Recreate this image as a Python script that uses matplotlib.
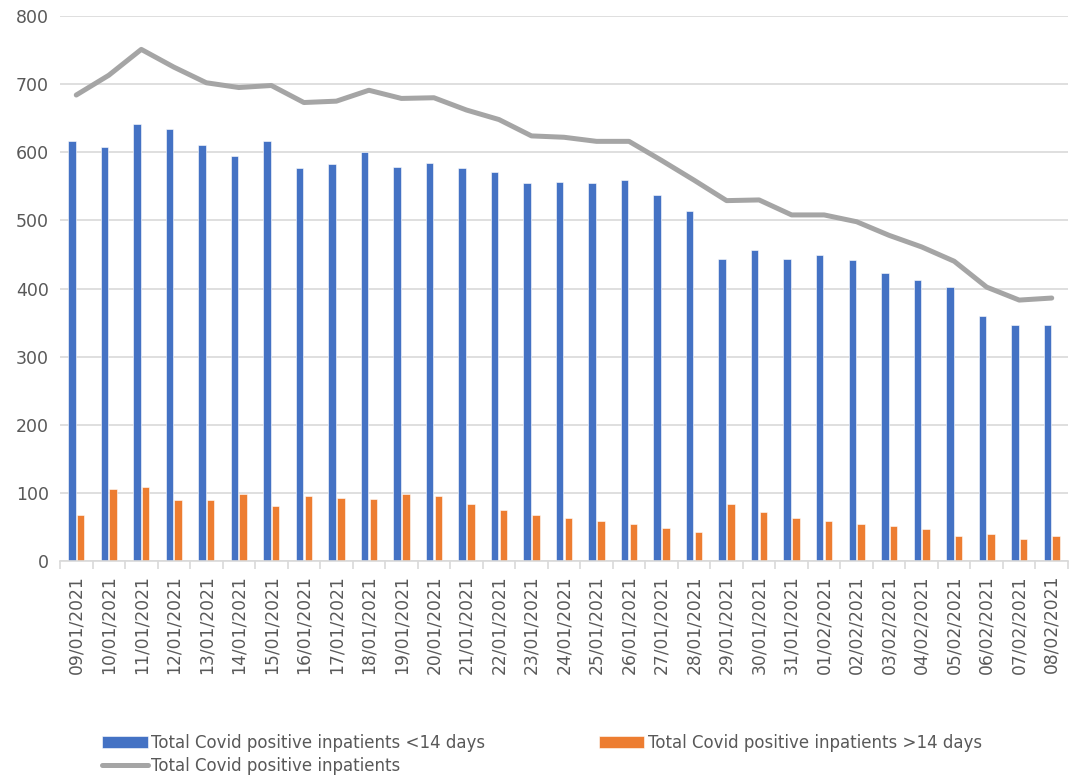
import matplotlib
matplotlib.use("Agg")
import matplotlib.pyplot as plt
import numpy as np

dates = ["09/01/2021", "10/01/2021", "11/01/2021", "12/01/2021", "13/01/2021",
         "14/01/2021", "15/01/2021", "16/01/2021", "17/01/2021", "18/01/2021",
         "19/01/2021", "20/01/2021", "21/01/2021", "22/01/2021", "23/01/2021",
         "24/01/2021", "25/01/2021", "26/01/2021", "27/01/2021", "28/01/2021",
         "29/01/2021", "30/01/2021", "31/01/2021", "01/02/2021", "02/02/2021",
         "03/02/2021", "04/02/2021", "05/02/2021", "06/02/2021", "07/02/2021",
         "08/02/2021"]
under14 = [617, 608, 642, 634, 610, 595, 616, 577, 583, 600,
           579, 584, 577, 571, 555, 557, 555, 560, 537, 514,
           443, 457, 444, 449, 442, 423, 412, 402, 360, 347, 347]
over14 = [67, 106, 108, 90, 90, 99, 81, 95, 92, 91,
          99, 95, 83, 75, 68, 63, 59, 54, 48, 43,
          84, 72, 63, 58, 54, 51, 47, 37, 39, 33, 37]
total = [684, 713, 751, 725, 702, 695, 698, 673, 675, 691,
         679, 680, 662, 648, 624, 622, 616, 616, 588, 559,
         529, 530, 508, 508, 498, 478, 461, 440, 402, 383, 386]

label_u = "Total Covid positive inpatients <14 days"
label_o = "Total Covid positive inpatients >14 days"
label_t = "Total Covid positive inpatients"

blue = "#4472C4"
orange = "#ED7D31"
grey = "#A5A5A5"
grid = "#D9D9D9"
txt = "#595959"

plt.rcParams['font.family'] = ['DejaVu Sans']

fig = plt.figure(figsize=(10.74, 7.80), dpi=100)
ax = fig.add_axes([60/1074, 1-561/780, (1068-60)/1074, (561-16)/780])

x = np.arange(len(dates))
w = 0.23
b1 = ax.bar(x - 0.135, under14, width=w, color=blue, edgecolor="white", linewidth=0.4, zorder=2)
b2 = ax.bar(x + 0.135, over14, width=w, color=orange, edgecolor="white", linewidth=0.4, zorder=2)
l1, = ax.plot(x, total, color=grey, linewidth=3.6, zorder=3, solid_capstyle='round')

ax.set_xlim(-0.5, len(dates) - 0.5)
ax.set_ylim(0, 800)
ax.set_yticks(np.arange(0, 801, 100))
ax.yaxis.grid(True, color=grid, linewidth=1.2, zorder=0)
ax.set_axisbelow(True)
for s in ["top", "right", "left"]:
    ax.spines[s].set_visible(False)
ax.spines["bottom"].set_color(grid)
ax.spines["bottom"].set_linewidth(1.2)

ax.set_xticks(x)
ax.set_xticklabels(dates, rotation=90, fontsize=12.3, color=txt)
ax.tick_params(axis='x', which='major', length=0, pad=10)
ax.set_xticks(np.arange(-0.5, len(dates), 1), minor=True)
ax.tick_params(axis='x', which='minor', length=6, color=grid, width=1.2)
ax.tick_params(axis='y', length=0, labelsize=12.5, labelcolor=txt, pad=8)

leg = fig.legend([b1, l1, b2], [label_u, label_t, label_o], ncol=2,
                 loc='upper left', bbox_to_anchor=(102/1074, 1-734/780),
                 frameon=False, fontsize=12, labelcolor=txt,
                 handlelength=2.75, handleheight=0.7, handletextpad=0.2,
                 columnspacing=6.8, labelspacing=0.3, borderaxespad=0, borderpad=0)

fig.savefig("out.png", dpi=100)
